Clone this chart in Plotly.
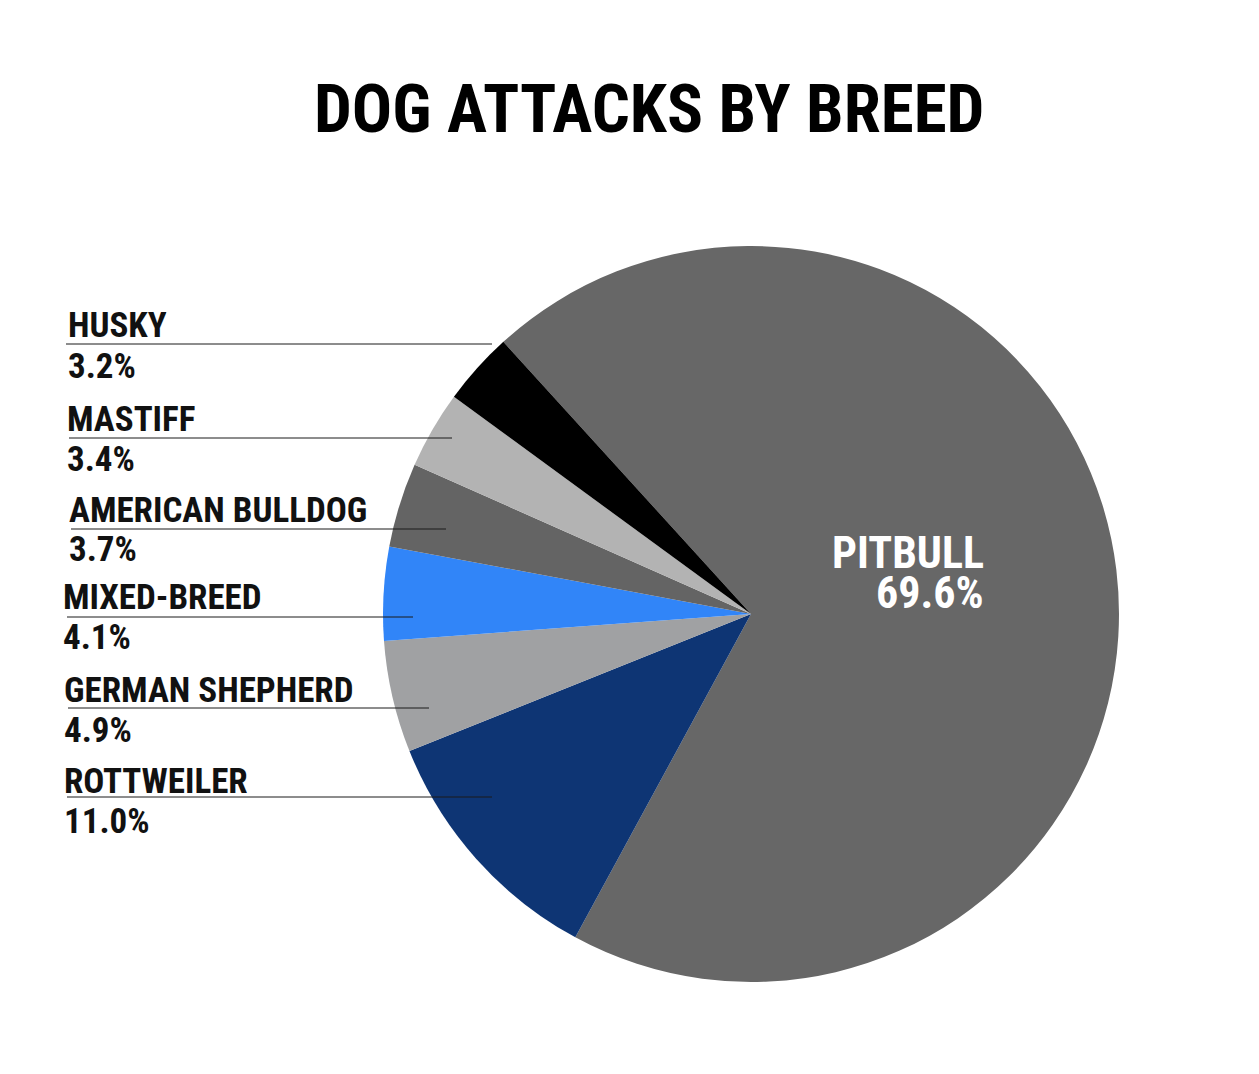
import plotly.graph_objects as go

# data
breeds = ["PITBULL", "ROTTWEILER", "GERMAN SHEPHERD", "MIXED-BREED",
          "AMERICAN BULLDOG", "MASTIFF", "HUSKY"]
shares = [69.6, 11.0, 4.9, 4.1, 3.7, 3.4, 3.2]
colors = ["#676767", "#0e3574", "#a0a1a3", "#3185f8",
          "#646464", "#b3b3b3", "#000000"]

# page is 1259x1074 but the body has an 8px margin
OFF = 8
W, H = 1259 - 2 * OFF, 1074 - 2 * OFF
FONT = "Roboto Condensed, Open Sans Condensed, DejaVu Sans Condensed, sans-serif"


def px(x):
    # page pixel -> paper x
    return (x - OFF) / W


def py(y):
    # page pixel -> paper y
    return 1 - (y - OFF) / H


# pie geometry (page pixels)
cx, cy, r = 751, 614, 368

fig = go.Figure(go.Pie(
    labels=breeds,
    values=shares,
    sort=False,
    direction="clockwise",
    rotation=-42.3,
    marker=dict(colors=colors, line=dict(width=0)),
    textinfo="none",
    hoverinfo="label+percent",
    showlegend=False,
    domain=dict(x=[px(cx - r), px(cx + r)],
                y=[py(cy + r), py(cy - r)]),
))

# left-side callouts: (name cap-middle y, pct cap-middle y, text x, line y, line x0, line x1)
callouts = {
    "HUSKY":            (325.5, 366, 66, 344, 66, 492),
    "MASTIFF":          (419, 458.5, 65, 438, 69, 452),
    "AMERICAN BULLDOG": (509.5, 549, 67, 529, 71, 446),
    "MIXED-BREED":      (597, 637, 61, 617, 67, 413),
    "GERMAN SHEPHERD":  (689.5, 729.5, 62, 708, 68, 429),
    "ROTTWEILER":       (780.5, 820.5, 62, 797, 67, 492),
}

label_font = dict(family=FONT, size=35, color="#111111", weight="bold")
annotations = []
shapes = []
for name, val in zip(breeds, shares):
    if name not in callouts:
        continue
    ny, vy, tx, ly, lx0, lx1 = callouts[name]
    for txt, yy in ((name, ny), (f"{val:.1f}%", vy)):
        annotations.append(dict(x=px(tx), y=py(yy), xref="paper", yref="paper",
                                text=txt, showarrow=False, xanchor="left", yanchor="middle",
                                height=34, font=label_font))
    shapes.append(dict(type="line", xref="paper", yref="paper",
                       x0=px(lx0), x1=px(lx1), y0=py(ly), y1=py(ly),
                       line=dict(color="#1a1a1a", width=1)))

# big slice label inside
big_font = dict(family=FONT, size=44, color="white", weight="bold")
for txt, yy in ((breeds[0], 552.5), (f"{shares[0]:.1f}%", 592.5)):
    annotations.append(dict(x=px(986), y=py(yy), xref="paper", yref="paper",
                            text=txt, showarrow=False, xanchor="right", yanchor="middle",
                            height=38, font=big_font))

# title
annotations.append(dict(x=px(648.5), y=py(109), xref="paper", yref="paper",
                        text="DOG ATTACKS BY BREED", showarrow=False,
                        xanchor="center", yanchor="middle",
                        font=dict(family=FONT, size=67, color="black", weight="bold")))

fig.update_layout(
    width=W, height=H,
    margin=dict(l=0, r=0, t=0, b=0),
    paper_bgcolor="white",
    plot_bgcolor="white",
    annotations=annotations,
    shapes=shapes,
)

fig.write_html("out.html")
